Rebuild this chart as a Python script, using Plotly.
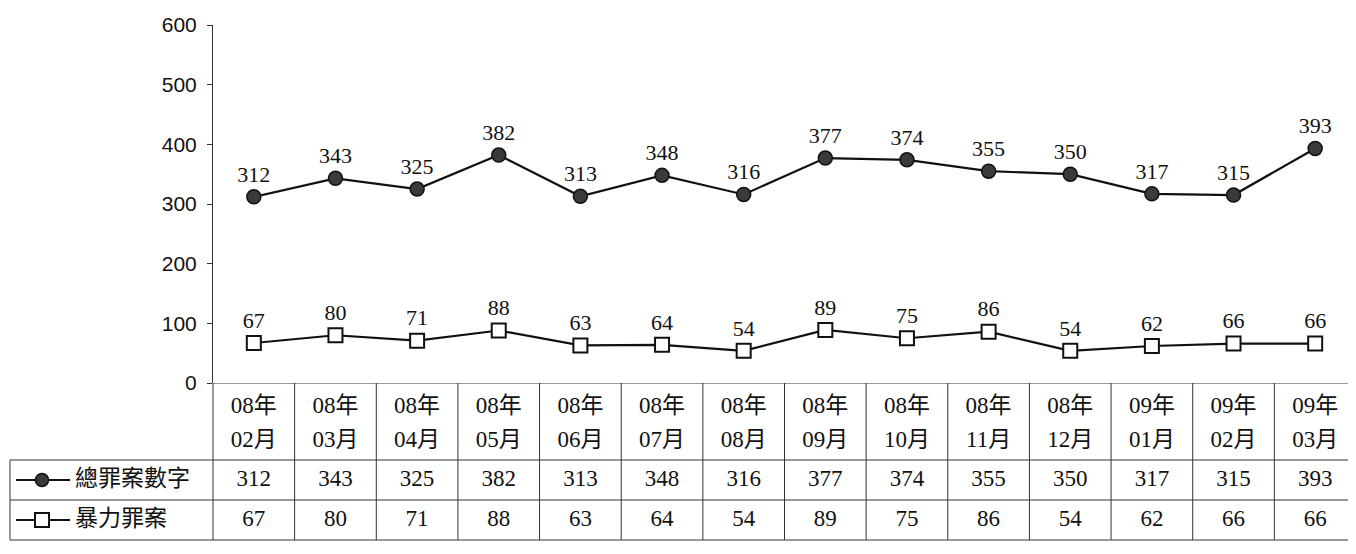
import plotly.graph_objects as go

# ---------------- data ----------------
years = ["08年"] * 11 + ["09年"] * 3
months = ["02月", "03月", "04月", "05月", "06月", "07月", "08月",
          "09月", "10月", "11月", "12月", "01月", "02月", "03月"]
total_crimes = [312, 343, 325, 382, 313, 348, 316, 377, 374, 355, 350, 317, 315, 393]
violent_crimes = [67, 80, 71, 88, 63, 64, 54, 89, 75, 86, 54, 62, 66, 66]
series_names = ["總罪案數字", "暴力罪案"]
y_ticks = [0, 100, 200, 300, 400, 500, 600]

# ---------------- layout geometry ----------------
OFF = 8                  # page body margin
W, H = 1356 - OFF, 554 - OFF
plot_left = 213 - OFF    # px, left edge of plot / table columns
plot_top = 25 - OFF      # px, y of 600
plot_bottom = 383 - OFF  # px, y of 0 / top of table
legend_left = 10 - OFF   # px
n = len(months)
col_w = (W - plot_left) / n

idx = list(range(n))

def px2u(px):
    return (px - plot_left) / col_w - 0.5

row_edges = [0, 77, 117, 157]   # px below plot_bottom
u_left = px2u(legend_left)

serif = "Liberation Serif, Times New Roman, Noto Sans CJK TC, serif"
sans = "Liberation Sans, Arial, sans-serif"
cjk = "Noto Sans CJK TC, sans-serif"
line_col = "#333333"
ink = "#111111"

fig = go.Figure()

# ---------------- chart lines ----------------
fig.add_trace(go.Scatter(
    x=idx, y=total_crimes, mode="lines+markers+text",
    text=[str(v) for v in total_crimes], textposition="top center",
    textfont=dict(family=serif, size=22, color=ink),
    line=dict(color=ink, width=2.2),
    marker=dict(symbol="circle", size=14, color="#3a3a3a", line=dict(color=ink, width=1.5)),
    cliponaxis=False, xaxis="x", yaxis="y", name=series_names[0]))
fig.add_trace(go.Scatter(
    x=idx, y=violent_crimes, mode="lines+markers+text",
    text=[str(v) for v in violent_crimes], textposition="top center",
    textfont=dict(family=serif, size=22, color=ink),
    line=dict(color=ink, width=2.2),
    marker=dict(symbol="square", size=14, color="white", line=dict(color=ink, width=2)),
    cliponaxis=False, xaxis="x", yaxis="y", name=series_names[1]))

# ---------------- table grid ----------------
gx, gy = [], []
for i in range(n + 1):
    gx += [i - 0.5, i - 0.5, None]
    gy += [row_edges[0], row_edges[-1], None]
gx += [u_left, u_left, None]
gy += [row_edges[1], row_edges[-1], None]
gx += [-0.5, n - 0.5, None]
gy += [row_edges[0], row_edges[0], None]
for r in row_edges[1:]:
    gx += [u_left, n - 0.5, None]
    gy += [r, r, None]
fig.add_trace(go.Scatter(x=gx, y=gy, mode="lines", line=dict(color=line_col, width=1),
                         hoverinfo="skip", xaxis="x2", yaxis="y2", cliponaxis=False))

# header texts (year / month)
fig.add_trace(go.Scatter(x=idx, y=[row_edges[0] + 24] * n, mode="text", text=years,
                         textfont=dict(family=serif, size=23, color=ink),
                         xaxis="x2", yaxis="y2", cliponaxis=False))
fig.add_trace(go.Scatter(x=idx, y=[row_edges[0] + 58] * n, mode="text", text=months,
                         textfont=dict(family=serif, size=23, color=ink),
                         xaxis="x2", yaxis="y2", cliponaxis=False))
# value rows
for k, vals in enumerate([total_crimes, violent_crimes]):
    yc = (row_edges[k + 1] + row_edges[k + 2]) / 2
    fig.add_trace(go.Scatter(x=idx, y=[yc] * n, mode="text", text=[str(v) for v in vals],
                             textfont=dict(family=serif, size=23, color=ink),
                             xaxis="x2", yaxis="y2", cliponaxis=False))

# legend cells
symbols = [dict(symbol="circle", size=13, color="#3a3a3a", line=dict(color=ink, width=1.5)),
           dict(symbol="square", size=14, color="white", line=dict(color=ink, width=2))]
for k, name in enumerate(series_names):
    yc = (row_edges[k + 1] + row_edges[k + 2]) / 2
    fig.add_trace(go.Scatter(x=[px2u(16 - OFF), px2u(70 - OFF)], y=[yc, yc], mode="lines",
                             line=dict(color=ink, width=2), xaxis="x2", yaxis="y2",
                             cliponaxis=False, hoverinfo="skip"))
    fig.add_trace(go.Scatter(x=[px2u(42 - OFF)], y=[yc], mode="markers", marker=symbols[k],
                             xaxis="x2", yaxis="y2", cliponaxis=False))
    fig.add_trace(go.Scatter(x=[px2u(75 - OFF)], y=[yc], mode="text", text=[name],
                             textposition="middle right",
                             textfont=dict(family=cjk, size=23, color=ink),
                             xaxis="x2", yaxis="y2", cliponaxis=False))

fig.update_layout(
    width=W, height=H, showlegend=False,
    margin=dict(l=0, r=0, t=0, b=0, pad=0),
    paper_bgcolor="white", plot_bgcolor="white",
    xaxis=dict(domain=[plot_left / W, 1], range=[-0.5, n - 0.5], showgrid=False,
               zeroline=False, showticklabels=False, showline=False, fixedrange=True,
               automargin=False),
    yaxis=dict(domain=[1 - plot_bottom / H, 1 - plot_top / H], range=[0, 600],
               tickvals=y_ticks, showgrid=False, zeroline=False, automargin=False,
               showline=True, linecolor=line_col, linewidth=1,
               ticks="outside", ticklen=5, tickcolor=line_col,
               ticklabelstandoff=6,
               tickfont=dict(family=sans, size=21, color=ink)),
    xaxis2=dict(domain=[0, 1], range=[px2u(0), n - 0.5], visible=False, anchor="y2",
                automargin=False),
    yaxis2=dict(domain=[0, 1 - plot_bottom / H], range=[H - plot_bottom, 0],
                visible=False, anchor="x2", automargin=False),
)

fig.write_html("out.html")
